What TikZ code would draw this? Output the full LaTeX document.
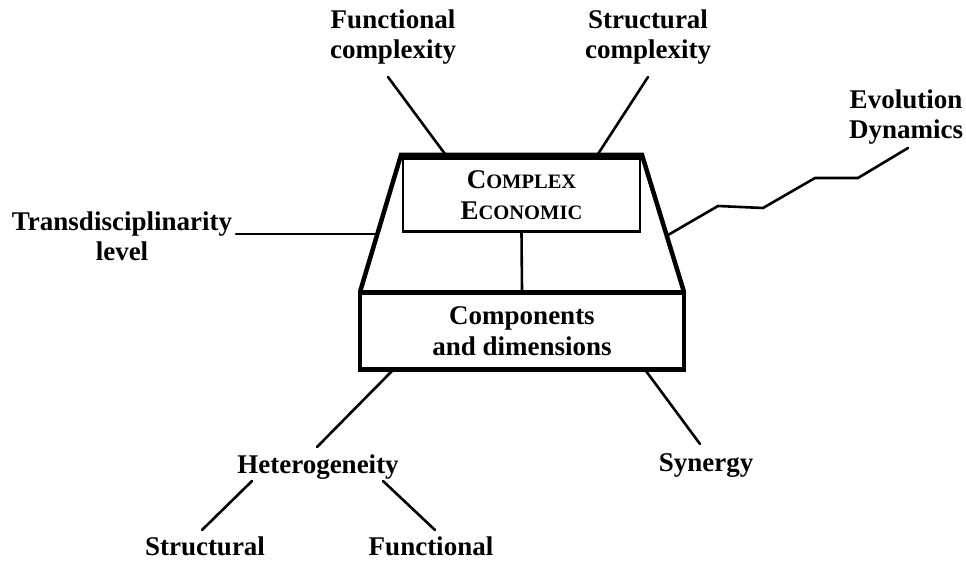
\documentclass[tikz,border=0pt]{standalone}
\usepackage{fontspec}
\setmainfont{Liberation Serif}
\begin{document}
\begin{tikzpicture}[x=1pt,y=-1pt,
  lbl/.style={font=\bfseries\fontsize{27}{30}\selectfont, align=center, inner sep=0pt},
  thickline/.style={line width=4.5pt, line join=miter},
  conn/.style={line width=2.6pt, line cap=round, line join=round},
  innerbox/.style={draw, line width=2.6pt, minimum width=237pt, minimum height=73pt, inner sep=0pt, align=center},
  outerbox/.style={draw, line width=4.5pt, minimum width=324pt, minimum height=77pt, inner sep=0pt, align=center, fill=white}]
\useasboundingbox (0,0) rectangle (966,561);
% trapezoid
\coordinate (tl) at (401,155);
\coordinate (tr) at (642,155);
\coordinate (bl) at (360,292);
\coordinate (br) at (684,292);
\draw[thickline] (bl) -- (tl) -- (tr) -- (br);
% boxes
\node[innerbox, font=\bfseries\fontsize{27}{31}\selectfont] (ce) at (521.5,195)
  {C{\fontsize{20.5}{31}\selectfont OMPLEX}\\E{\fontsize{20.5}{31}\selectfont CONOMIC}};
\node[outerbox, font=\bfseries\fontsize{27}{31}\selectfont] (cd) at (522,331)
  {Components\\and dimensions};
\draw[conn, line cap=butt] (ce.south) -- (cd.north);
% labels
\node[lbl] (fc) at (393,37) {Functional\\complexity};
\node[lbl] (sc) at (648,37) {Structural\\complexity};
\node[lbl] (ed) at (906,117) {Evolution\\Dynamics};
\node[lbl] (td) at (122,236) {Transdisciplinarity\\level};
\node[lbl] (het) at (318,467) {Heterogeneity};
\node[lbl] (syn) at (706,466) {Synergy};
\node[lbl] (str) at (205,546) {Structural};
\node[lbl] (fun) at (431,546) {Functional};
% connector endpoints
\coordinate (fc1) at (388,77);  \coordinate (fc2) at (445,154);
\coordinate (sc1) at (648,77);  \coordinate (sc2) at (598,154);
\coordinate (ed1) at (908,148); \coordinate (ed2) at (858,178);
\coordinate (ed3) at (815,178); \coordinate (ed4) at (763,208);
\coordinate (ed5) at (718,206); \coordinate (ed6) at (668,235);
\coordinate (td1) at (236,234); \coordinate (td2) at (377,234);
\coordinate (h1) at (392,371);  \coordinate (h2) at (317,447);
\coordinate (s1) at (646,371);  \coordinate (s2) at (700,444);
\coordinate (hs1) at (252,481); \coordinate (hs2) at (202,530);
\coordinate (hf1) at (383,481); \coordinate (hf2) at (435,530);
\draw[conn] (fc1) -- (fc2);
\draw[conn] (sc1) -- (sc2);
\draw[conn] (ed1) -- (ed2) -- (ed3) -- (ed4) -- (ed5) -- (ed6);
\draw[conn] (td1) -- (td2);
\draw[conn] (h1) -- (h2);
\draw[conn] (s1) -- (s2);
\draw[conn] (hs1) -- (hs2);
\draw[conn] (hf1) -- (hf2);
\end{tikzpicture}
\end{document}
